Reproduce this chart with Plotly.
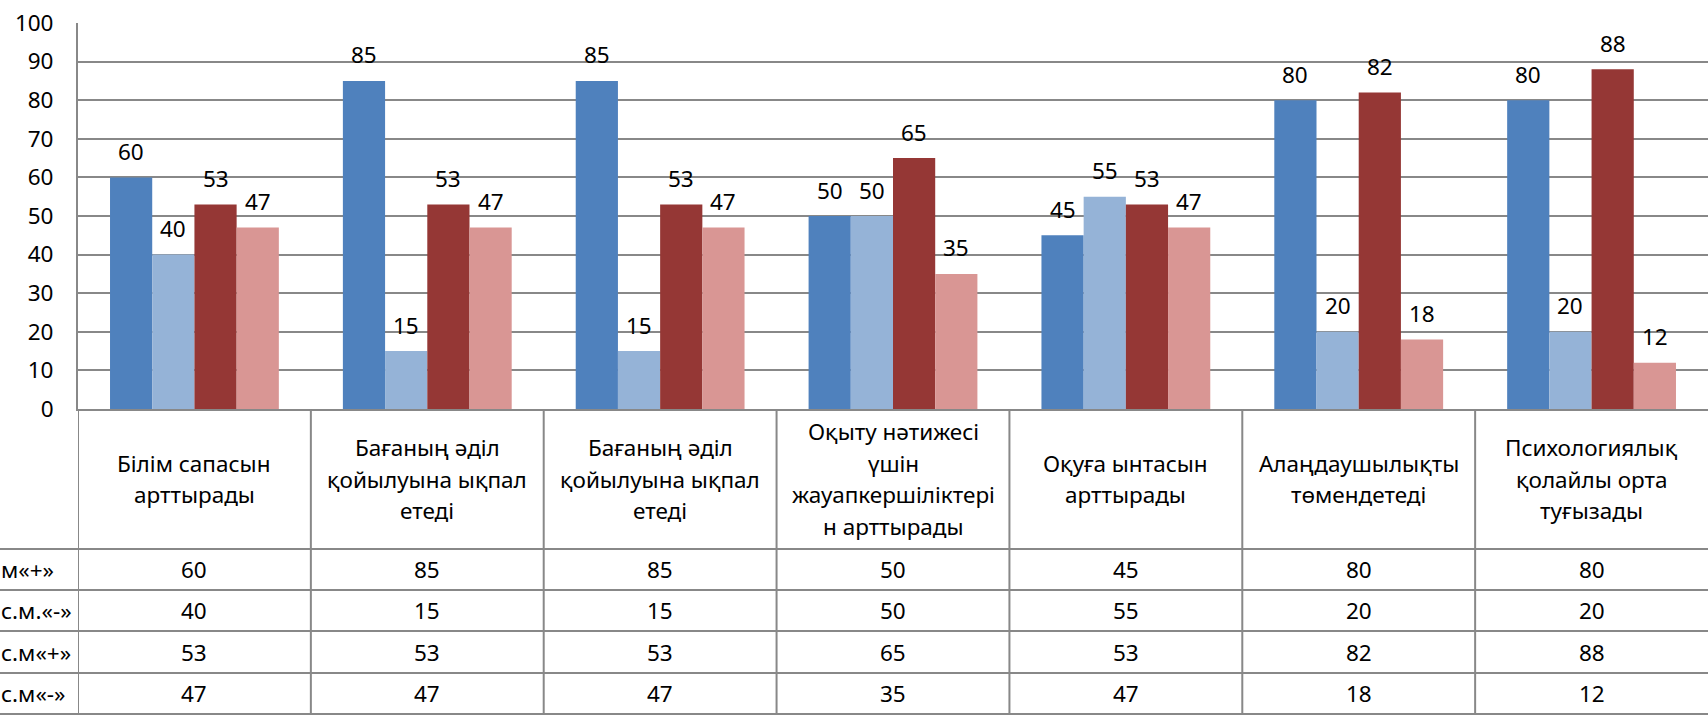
import plotly.graph_objects as go

categories = [
    "Білім сапасын<br>арттырады",
    "Бағаның әділ<br>қойылуына ықпал<br>етеді",
    "Бағаның әділ<br>қойылуына ықпал<br>етеді ",
    "Оқыту нәтижесі<br>үшін<br>жауапкершіліктері<br>н арттырады",
    "Оқуға ынтасын<br>арттырады",
    "Алаңдаушылықты<br>төмендетеді",
    "Психологиялық<br>қолайлы орта<br>туғызады",
]
series_names = ["м«+»", "с.м.«-»", "с.м«+»", "с.м«-»"]
s1 = [60, 85, 85, 50, 45, 80, 80]
s2 = [40, 15, 15, 50, 55, 20, 20]
s3 = [53, 53, 53, 65, 53, 82, 88]
s4 = [47, 47, 47, 35, 47, 18, 12]
series_values = [s1, s2, s3, s4]
colors = ["#4F81BD", "#95B3D7", "#953735", "#D99694"]
y_ticks = [0, 10, 20, 30, 40, 50, 60, 70, 80, 90, 100]

W, H = 1708, 718
ML, MR, MT, MB = 78, 0, 23, 309
PW = W - ML - MR
PH = H - MT - MB
BARGAP = 0.275
FONT = "Noto Sans"
FS = 22.5
GRID = "#888888"

fig = go.Figure()
for name, vals, col in zip(series_names, series_values, colors):
    fig.add_trace(go.Bar(x=categories, y=vals, name=name, marker_color=col,
                         marker_line_width=0))

bar_w = PW / len(categories) * (1 - BARGAP) / len(series_names)

def py2paper(py):
    return (MT + PH - py) / PH

annotations = []
# data labels above bars
for j, vals in enumerate(series_values):
    for i, v in enumerate(vals):
        annotations.append(dict(
            x=categories[i], y=v, xref="x", yref="y", text=str(v),
            showarrow=False, xshift=(j - 1.5) * bar_w, yshift=26,
            yanchor="middle", xanchor="center",
            font=dict(family=FONT, size=FS, color="#000000")))

# header row of the data table
HEADER_CENTER = 479
LINE_STEP = 31.5
for i, c in enumerate(categories):
    lines = c.strip().split("<br>")
    n = len(lines)
    for k, ln in enumerate(lines):
        py = HEADER_CENTER + (k - (n - 1) / 2) * LINE_STEP
        annotations.append(dict(
            x=categories[i], y=py2paper(py), xref="x", yref="paper",
            text=ln, showarrow=False, yanchor="middle", xanchor="center",
            font=dict(family=FONT, size=FS, color="#000000")))

row_lines = [549, 590, 631, 673, 714]
row_centers = [(row_lines[r] + row_lines[r + 1]) / 2 for r in range(4)]
for r, (name, vals) in enumerate(zip(series_names, series_values)):
    yc = py2paper(row_centers[r])
    annotations.append(dict(
        x=(-1 - ML) / PW, y=yc, xref="paper", yref="paper", text=name,
        showarrow=False, xanchor="left", yanchor="middle",
        font=dict(family=FONT, size=FS, color="#000000")))
    for i, v in enumerate(vals):
        annotations.append(dict(
            x=categories[i], y=yc, xref="x", yref="paper", text=str(v),
            showarrow=False, xanchor="center", yanchor="middle",
            font=dict(family=FONT, size=FS, color="#000000")))

shapes = []
bottom = py2paper(714)
for i in range(len(categories)):
    shapes.append(dict(type="line", xref="x", yref="paper",
                       x0=i - 0.5, x1=i - 0.5, y0=0, y1=bottom,
                       line=dict(color=GRID, width=2)))
for py in row_lines:
    shapes.append(dict(type="line", xref="paper", yref="paper",
                       x0=-ML / PW, x1=1, y0=py2paper(py), y1=py2paper(py),
                       line=dict(color=GRID, width=2)))

fig.update_layout(
    width=W, height=H, autosize=False,
    margin=dict(l=ML, r=MR, t=MT, b=MB, pad=0, autoexpand=False),
    paper_bgcolor="white", plot_bgcolor="white",
    barmode="group", bargap=BARGAP, bargroupgap=0,
    showlegend=False,
    font=dict(family=FONT, size=FS, color="#000000"),
    xaxis=dict(type="category", showticklabels=False, ticks="",
               showgrid=False, showline=True, linecolor=GRID, linewidth=2,
               range=[-0.5, len(categories) - 0.5], zeroline=False,
               automargin=False),
    yaxis=dict(range=[0, 100], tickvals=y_ticks, showgrid=True,
               gridcolor=GRID, gridwidth=2, showline=True, linecolor=GRID,
               linewidth=2, ticks="", ticklabelstandoff=18, zeroline=False,
               automargin=False,
               tickfont=dict(family=FONT, size=FS, color="#000000")),
    annotations=annotations, shapes=shapes,
)

fig.write_html("out.html",
               config={"displayModeBar": False},
               post_script="document.body.style.margin='0px';"
                           "document.body.style.overflow='hidden';")
